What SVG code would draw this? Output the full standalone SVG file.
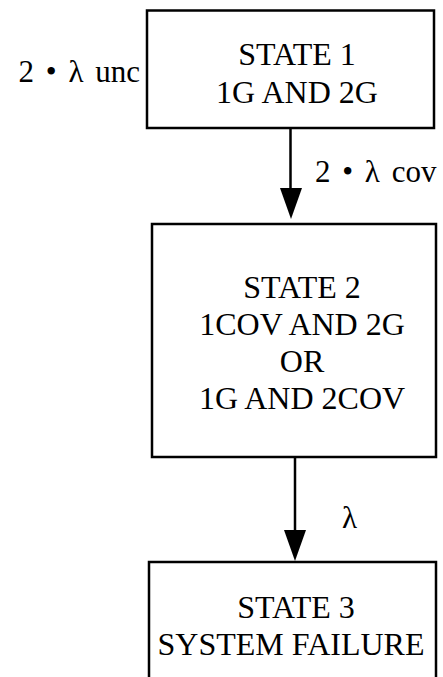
<svg xmlns="http://www.w3.org/2000/svg" width="443" height="677" viewBox="0 0 443 677">
<style>
.box{fill:#fff;stroke:#000;stroke-width:2.5}
.t{font-family:"Liberation Serif","DejaVu Serif",serif;font-size:32px;fill:#000;text-anchor:middle}
.lbl{font-family:"Liberation Serif","DejaVu Serif",serif;font-size:31px;fill:#000;word-spacing:4px}
.ln{stroke:#000;stroke-width:2.5;fill:none}
.ah{fill:#000}
</style>
<rect width="443" height="677" fill="#fff"/>
<g id="connectors">
<path class="ln" d="M290.5,128 V200"/>
<polygon class="ah" points="280,188 302,188 291,219"/>
<path class="ln" d="M295,457 V540"/>
<polygon class="ah" points="284,530 306,530 295,561"/>
<text class="lbl" x="140" y="82" text-anchor="end">2 • λ unc</text>
<text class="lbl" x="315" y="182">2 • λ cov</text>
<text class="lbl" x="342" y="528" font-size="32">λ</text>
</g>
<g id="state1">
<rect class="box" x="147" y="10.5" width="287" height="117.5"/>
<text class="t" x="297" y="65">STATE 1</text>
<text class="t" x="297" y="103">1G AND 2G</text>
</g>
<g id="state2">
<rect class="box" x="152" y="224" width="284" height="233"/>
<text class="t" x="302" y="298">STATE 2</text>
<text class="t" x="302" y="335">1COV AND 2G</text>
<text class="t" x="302" y="372">OR</text>
<text class="t" x="302" y="409">1G AND 2COV</text>
</g>
<g id="state3">
<rect class="box" x="149" y="562" width="287" height="130"/>
<text class="t" x="296" y="618">STATE 3</text>
<text class="t" x="291" y="655">SYSTEM FAILURE</text>
</g>
</svg>
